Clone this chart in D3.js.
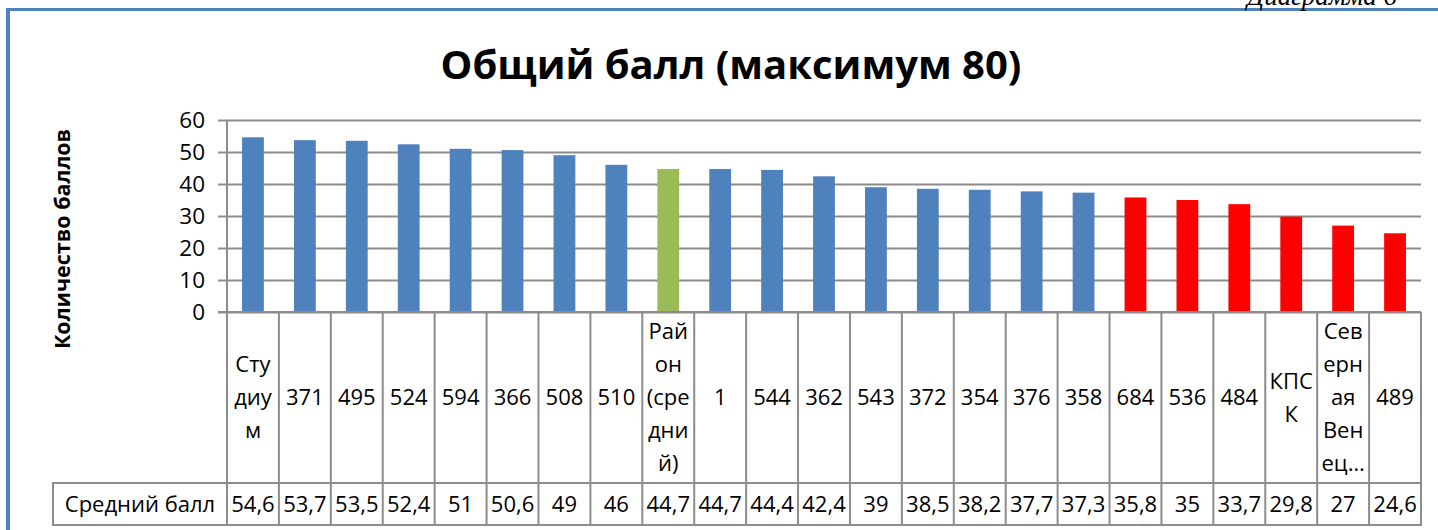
<!DOCTYPE html>
<html lang="ru">
<head>
    <meta charset="UTF-8">
    <title>Общий балл</title>
    <style>
        body { margin: 0; background: #fff; }
        svg { display: block; }
        text { font-family: "Open Sans", "Noto Sans", sans-serif; fill: #000; }
        .grid line { stroke: #8c8c8c; stroke-width: 2px; }
        .tbl line { stroke: #8c8c8c; stroke-width: 2px; }
    </style>
</head>
<body>
    <script src="https://d3js.org/d3.v7.min.js"></script>
    <script>
        // data
        var categories = ["Студиум", "371", "495", "524", "594", "366", "508", "510", "Район (средний)",
            "1", "544", "362", "543", "372", "354", "376", "358", "684", "536", "484", "КПСК",
            "Северная Венеция", "489"];
        // how the category names are broken inside the narrow cells
        var categoryLines = [["Сту", "диу", "м"], ["371"], ["495"], ["524"], ["594"], ["366"], ["508"], ["510"],
            ["Рай", "он", "(сре", "дни", "й)"], ["1"], ["544"], ["362"], ["543"], ["372"], ["354"], ["376"],
            ["358"], ["684"], ["536"], ["484"], ["КПС", "К"], ["Сев", "ерн", "ая", "Вен", "ец…"], ["489"]];
        var values = [54.6, 53.7, 53.5, 52.4, 51, 50.6, 49, 46, 44.7, 44.7, 44.4, 42.4, 39, 38.5, 38.2,
            37.7, 37.3, 35.8, 35, 33.7, 29.8, 27, 24.6];
        // group of every bar: 0 school, 1 district average, 2 below the line
        var groups = [0, 0, 0, 0, 0, 0, 0, 0, 1, 0, 0, 0, 0, 0, 0, 0, 0, 2, 2, 2, 2, 2, 2];
        var yTicks = [0, 10, 20, 30, 40, 50, 60];
        var seriesName = "Средний балл";
        var title = "Общий балл (максимум 80)";
        var yTitle = "Количество баллов";
        var note = "Диаграмма 6";

        var colors = ["#4f81bd", "#9bbb59", "#ff0000"];

        var W = 1438, H = 530;
        var plot = { left: 227, right: 1421, top: 120, bottom: 312 };
        var row1 = 483, row2 = 525, legendLeft = 53;

        var svg = d3.select("body").append("svg")
            .attr("width", W)
            .attr("height", H);

        // frame of the page
        svg.append("line").attr("x1", 6).attr("x2", W).attr("y1", 9.5).attr("y2", 9.5)
            .attr("stroke", "#4f81bd").attr("stroke-width", 3);
        svg.append("line").attr("x1", 8).attr("x2", 8).attr("y1", 8).attr("y2", H)
            .attr("stroke", "#4f81bd").attr("stroke-width", 4);

        // page caption, cut by the top of the page as in the source
        svg.append("text")
            .attr("x", 1397).attr("y", 5)
            .attr("text-anchor", "end")
            .style("font-family", "'Liberation Serif', serif")
            .style("font-style", "italic")
            .style("font-size", "27px")
            .text(note);

        // scales
        var x = d3.scaleBand().domain(categories).range([plot.left, plot.right]).padding(0);
        var y = d3.scaleLinear().domain([0, 60]).range([plot.bottom, plot.top]);
        var barW = x.bandwidth() * 0.42;

        // title
        svg.append("text")
            .attr("x", 731).attr("y", 79)
            .attr("text-anchor", "middle")
            .style("font-size", "40px")
            .style("font-weight", "bold")
            .text(title);

        svg.append("text")
            .attr("transform", "translate(70,239) rotate(-90)")
            .attr("text-anchor", "middle")
            .style("font-size", "21.5px")
            .style("font-weight", "bold")
            .text(yTitle);

        // gridlines
        svg.append("g")
            .attr("class", "grid")
            .attr("transform", "translate(" + plot.left + ",0)")
            .call(d3.axisLeft(y).tickValues(yTicks).tickSize(-(plot.right - plot.left)).tickFormat(""))
            .call(function (g) { g.select(".domain").remove(); });

        // y axis with outer tick marks
        var yAxis = svg.append("g")
            .attr("class", "grid")
            .attr("transform", "translate(" + plot.left + ",0)")
            .call(d3.axisLeft(y).tickValues(yTicks).tickSize(9).tickPadding(13))
            .call(function (g) { g.select(".domain").remove(); });
        yAxis.selectAll("text")
            .style("font-size", "22.5px")
            .style("font-family", "'Open Sans', sans-serif")
            .attr("fill", "#000");

        // bars
        svg.append("g").selectAll("rect")
            .data(values)
            .enter().append("rect")
            .attr("x", function (d, i) { return x(categories[i]) + (x.bandwidth() - barW) / 2; })
            .attr("y", function (d) { return y(d); })
            .attr("width", barW)
            .attr("height", function (d) { return y(0) - y(d); })
            .attr("fill", function (d, i) { return colors[groups[i]]; });

        // data table under the axis
        var tbl = svg.append("g").attr("class", "tbl");
        // column borders
        var edges = categories.map(function (c) { return x(c); }).concat([plot.right]);
        tbl.selectAll("line.col")
            .data(edges)
            .enter().append("line")
            .attr("class", "col")
            .attr("x1", function (d) { return d; })
            .attr("x2", function (d) { return d; })
            .attr("y1", function (d, i) { return i === 0 ? plot.top : plot.bottom; })
            .attr("y2", row2);
        tbl.append("line").attr("x1", legendLeft).attr("x2", legendLeft).attr("y1", row1).attr("y2", row2);
        tbl.append("line").attr("x1", plot.left - 9).attr("x2", plot.right).attr("y1", plot.bottom).attr("y2", plot.bottom);
        tbl.append("line").attr("x1", legendLeft - 1).attr("x2", plot.right + 1).attr("y1", row1).attr("y2", row1);
        tbl.append("line").attr("x1", legendLeft - 1).attr("x2", plot.right + 1).attr("y1", row2).attr("y2", row2);

        // category names
        var lineH = 33;
        var mid1 = (plot.bottom + row1) / 2;
        var lab = svg.append("g").selectAll("text")
            .data(categoryLines)
            .enter().append("text")
            .attr("text-anchor", "middle")
            .style("font-size", "22px")
            .attr("transform", function (d, i) {
                return "translate(" + (x(categories[i]) + x.bandwidth() / 2) + "," + mid1 + ")";
            });
        lab.selectAll("tspan")
            .data(function (d) { return d.map(function (s, k) { return { s: s, k: k, n: d.length }; }); })
            .enter().append("tspan")
            .attr("x", 0)
            .attr("y", function (d) { return (d.k - (d.n - 1) / 2) * lineH; })
            .attr("dy", "0.35em")
            .text(function (d) { return d.s; });

        // values row
        var mid2 = (row1 + row2) / 2;
        svg.append("text")
            .attr("x", (legendLeft + plot.left) / 2)
            .attr("y", mid2)
            .attr("dy", "0.35em")
            .attr("text-anchor", "middle")
            .style("font-size", "22px")
            .text(seriesName);

        svg.append("g").selectAll("text")
            .data(values)
            .enter().append("text")
            .attr("x", function (d, i) { return x(categories[i]) + x.bandwidth() / 2; })
            .attr("y", mid2)
            .attr("dy", "0.35em")
            .attr("text-anchor", "middle")
            .style("font-size", "22px")
            .text(function (d) { return String(d).replace(".", ","); });
    </script>
</body>
</html>
